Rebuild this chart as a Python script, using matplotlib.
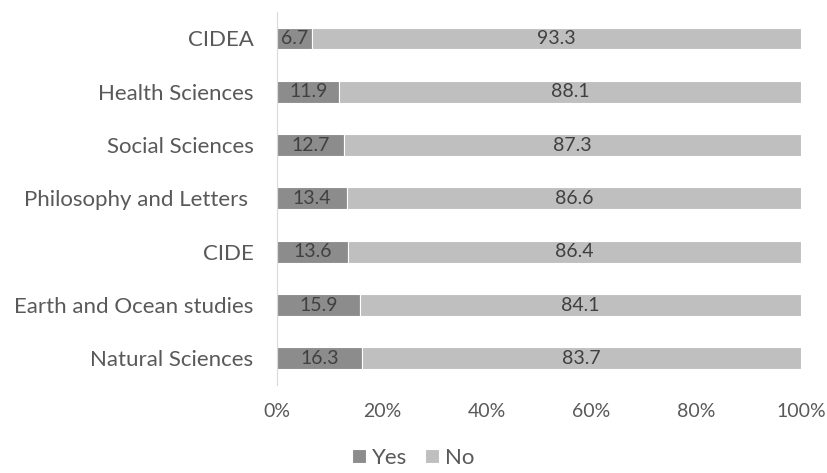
import matplotlib.pyplot as plt
import numpy as np

categories = ["Natural Sciences", "Earth and Ocean studies", "CIDE",
              "Philosophy and Letters ", "Social Sciences", "Health Sciences", "CIDEA"]
yes_vals = [16.3, 15.9, 13.6, 13.4, 12.7, 11.9, 6.7]
no_vals = [83.7, 84.1, 86.4, 86.6, 87.3, 88.1, 93.3]
xticks = [0, 20, 40, 60, 80, 100]

plt.rcParams['font.family'] = ['Lato', 'DejaVu Sans']
txt = '#595959'

fig = plt.figure(figsize=(8.27, 4.73), dpi=100)
ax = fig.add_axes([0.335, 0.186, 0.6335, 0.789])

y = np.arange(len(categories))
h = 0.41
ax.barh(y, yes_vals, height=h, color='#8c8c8c', edgecolor='white', linewidth=0.8, label='Yes')
ax.barh(y, no_vals, left=yes_vals, height=h, color='#bfbfbf', edgecolor='white', linewidth=0.8, label='No')

for i in range(len(categories)):
    ax.text(yes_vals[i] / 2, y[i], f"{yes_vals[i]:.1f}", ha='center', va='center', fontsize=14, color='#404040')
    ax.text(yes_vals[i] + no_vals[i] / 2, y[i], f"{no_vals[i]:.1f}", ha='center', va='center', fontsize=14, color='#404040')

ax.set_xlim(0, 100)
ax.set_ylim(-0.5, len(categories) - 0.5)
ax.set_yticks(y)
ax.set_yticklabels(categories, fontsize=16, color=txt)
ax.set_xticks(xticks)
ax.set_xticklabels([f"{t}%" for t in xticks], fontsize=14, color=txt)
ax.tick_params(axis='both', length=0)
ax.tick_params(axis='y', pad=17)
ax.tick_params(axis='x', pad=13)
for s in ['top', 'right', 'bottom']:
    ax.spines[s].set_visible(False)
ax.spines['left'].set_color('#d9d9d9')

fig.legend(loc='center', bbox_to_anchor=(0.5, 0.032), ncol=2, frameon=False,
           fontsize=16, handlelength=0.6, handleheight=0.6, handletextpad=0.3,
           columnspacing=0.8, labelcolor=txt)

fig.savefig('out.png', dpi=100)
